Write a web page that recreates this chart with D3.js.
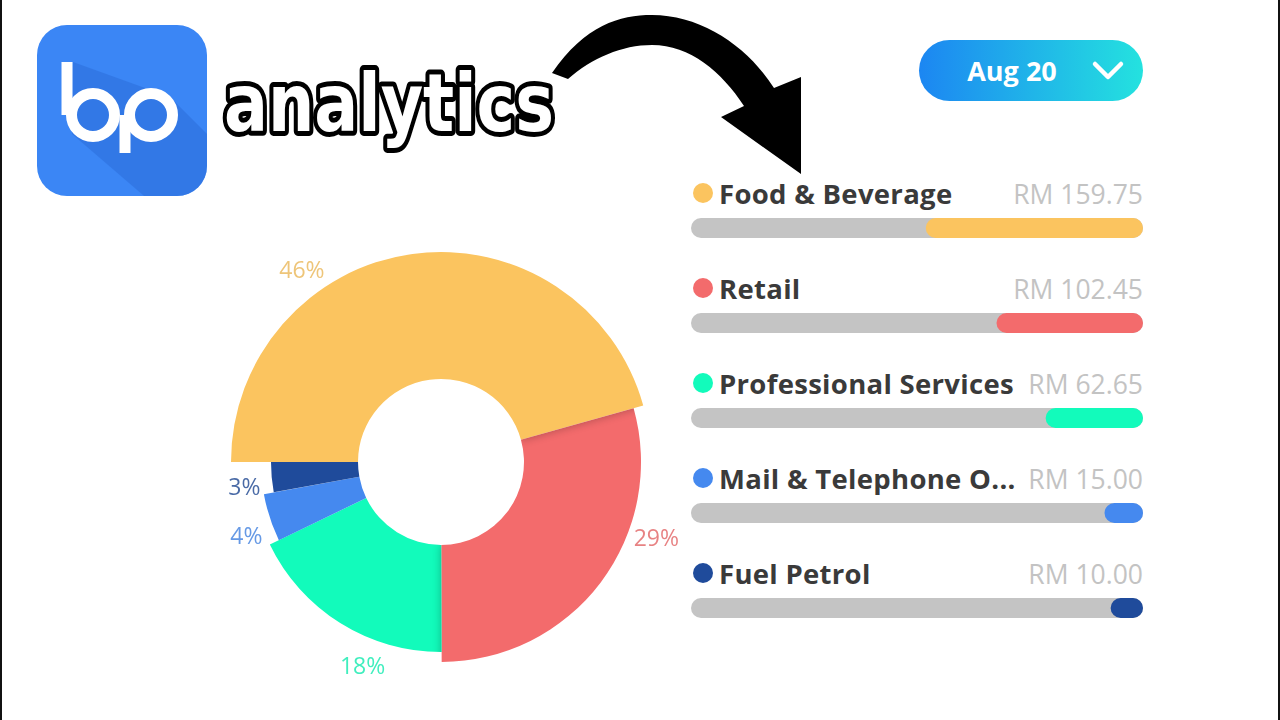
<!DOCTYPE html>
<html>
<head>
<meta charset="utf-8">
<script src="https://cdn.jsdelivr.net/npm/d3@7"></script>
<style>
  html, body { margin: 0; padding: 0; background: #ffffff; }
  svg { display: block; }
</style>
</head>
<body>
<svg id="chart" width="1280" height="720"></svg>
<script>
// ---------- data ----------
const categories = ["Food & Beverage", "Retail", "Professional Services", "Mail & Telephone O...", "Fuel Petrol"];
const amounts = [159.75, 102.45, 62.65, 15.00, 10.00];
const colors = ["#fbc45f", "#f36b6c", "#12fbbb", "#4589ef", "#1f4b9b"];
const currency = "RM";
const period = "Aug 20";
const brand = "analytics";

// ---------- setup ----------
const svg = d3.select("#chart");
const W = 1280, H = 720;
const total = d3.sum(amounts);
const data = categories.map((c, i) => ({ name: c, value: amounts[i], color: colors[i], idx: i }));

const defs = svg.append("defs");

// frame lines
svg.append("rect").attr("x", 0).attr("y", 0).attr("width", 2).attr("height", H).attr("fill", "#111");
svg.append("rect").attr("x", W - 2).attr("y", 0).attr("width", 2).attr("height", H).attr("fill", "#111");

// ---------- logo ----------
const logo = svg.append("g");
defs.append("clipPath").attr("id", "logoClip")
  .append("rect").attr("x", 37).attr("y", 25).attr("width", 170).attr("height", 171).attr("rx", 30);
logo.append("rect").attr("x", 37).attr("y", 25).attr("width", 170).attr("height", 171).attr("rx", 30).attr("fill", "#3b86f5");
logo.append("polygon")
  .attr("clip-path", "url(#logoClip)")
  .attr("points", "73,62 170,97 300,227 300,330 72,134")
  .attr("fill", "#2d6fdc").attr("opacity", 0.6);
const lw = 11;
logo.append("circle").attr("cx", 93).attr("cy", 115).attr("r", 21.5).attr("fill", "none").attr("stroke", "#fff").attr("stroke-width", lw);
logo.append("circle").attr("cx", 151).attr("cy", 115).attr("r", 21.5).attr("fill", "none").attr("stroke", "#fff").attr("stroke-width", lw);
logo.append("line").attr("x1", 67).attr("x2", 67).attr("y1", 62).attr("y2", 115).attr("stroke", "#fff").attr("stroke-width", lw);
logo.append("line").attr("x1", 125).attr("x2", 125).attr("y1", 115).attr("y2", 153).attr("stroke", "#fff").attr("stroke-width", lw);

// brand word
svg.append("text")
  .attr("x", 224).attr("y", 131)
  .attr("font-family", "DejaVu Sans")
  .attr("font-weight", 700)
  .attr("font-size", 80)
  .attr("textLength", 330)
  .attr("lengthAdjust", "spacingAndGlyphs")
  .attr("fill", "#ffffff")
  .attr("stroke", "#000")
  .attr("stroke-width", 10)
  .attr("stroke-linejoin", "round")
  .attr("paint-order", "stroke")
  .text(brand);

// arrow
svg.append("path")
  .attr("d", "M552,73 C585,25 620,15 652,15 C702,15 748,47 774,88 L801,77 L801,174 L721,117 L744,106 C722,72 690,45 652,45 C622,45 592,58 568,79 Z")
  .attr("fill", "#000");

// ---------- period pill ----------
const grad = defs.append("linearGradient").attr("id", "pillGrad").attr("x1", "0%").attr("x2", "100%");
grad.append("stop").attr("offset", "0%").attr("stop-color", "#1c86f2");
grad.append("stop").attr("offset", "100%").attr("stop-color", "#24e2df");
svg.append("rect").attr("x", 919).attr("y", 40).attr("width", 224).attr("height", 61).attr("rx", 30.5).attr("fill", "url(#pillGrad)");
svg.append("text").attr("x", 1012).attr("y", 81).attr("text-anchor", "middle")
  .attr("font-family", "Open Sans").attr("font-weight", 700).attr("font-size", 27)
  .attr("fill", "#fff").text(period);
svg.append("polyline").attr("points", "1095,64 1108,77 1121,64")
  .attr("fill", "none").attr("stroke", "#fff").attr("stroke-width", 4.5)
  .attr("stroke-linecap", "round").attr("stroke-linejoin", "round");

// ---------- donut ----------
const cx = 441, cy = 462;
const innerR = 83;
const outerR = d3.scaleLinear().domain([0, categories.length - 1]).range([210, 170]);

const pie = d3.pie().sort(null).value(d => d.value)
  .startAngle(-Math.PI / 2).endAngle(3 * Math.PI / 2);
const arcs = pie(data);
const arcGen = d3.arc().innerRadius(innerR).outerRadius(d => outerR(d.data.idx));

const donut = svg.append("g").attr("transform", `translate(${cx},${cy})`);

defs.append("filter").attr("id", "blurShadow").attr("x", "-50%").attr("y", "-50%").attr("width", "200%").attr("height", "200%")
  .append("feGaussianBlur").attr("stdDeviation", 5);

donut.selectAll("path.slice").data(arcs).join("path")
  .attr("class", "slice")
  .attr("d", arcGen)
  .attr("fill", d => d.data.color);

// soft shadow cast by previous slice onto the next (first two junctions)
arcs.forEach((a, i) => {
  if (i === 0 || i > 2) return;
  const id = "clipSlice" + i;
  defs.append("clipPath").attr("id", id).attr("transform", `translate(${cx},${cy})`)
    .append("path").attr("d", arcGen(a));
  svg.append("g").attr("clip-path", `url(#${id})`)
    .append("path")
    .attr("transform", `translate(${cx},${cy})`)
    .attr("d", arcGen(arcs[i - 1]))
    .attr("fill", "#000").attr("opacity", 0.28)
    .attr("filter", "url(#blurShadow)");
});

// percentage labels
donut.selectAll("text.pct").data(arcs).join("text")
  .attr("class", "pct")
  .attr("x", d => {
    const ang = d.startAngle + 0.33 * (d.endAngle - d.startAngle);
    return (outerR(d.data.idx) + 28) * Math.sin(ang);
  })
  .attr("y", d => {
    const ang = d.startAngle + 0.33 * (d.endAngle - d.startAngle);
    return -(outerR(d.data.idx) + 28) * Math.cos(ang);
  })
  .attr("text-anchor", "middle")
  .attr("dominant-baseline", "central")
  .attr("font-family", "Open Sans")
  .attr("font-size", 23)
  .attr("fill", d => d3.color(d.data.color).darker(0.2))
  .attr("opacity", 0.8)
  .text(d => Math.round(d.value / total * 100) + "%");

// ---------- legend with progress bars ----------
const barX0 = 691, barX1 = 1143, barH = 20;
const rowY = d3.scalePoint().domain(categories).range([193, 573]);
const barW = d3.scaleLinear().domain([0, total]).range([barH, barX1 - barX0]);

const rows = svg.selectAll("g.row").data(data).join("g")
  .attr("class", "row")
  .attr("transform", d => `translate(0,${rowY(d.name)})`);

rows.append("circle").attr("cx", 703).attr("cy", 0).attr("r", 10).attr("fill", d => d.color);
rows.append("text").attr("x", 719).attr("y", 11)
  .attr("font-family", "Open Sans").attr("font-weight", 700).attr("font-size", 27.5)
  .attr("letter-spacing", 0.3)
  .attr("fill", "#3a3a3a").text(d => d.name);
rows.append("text").attr("x", barX1).attr("y", 11).attr("text-anchor", "end")
  .attr("font-family", "Open Sans").attr("font-size", 26.5)
  .attr("fill", "#c3c3c3").text(d => `${currency} ${d.value.toFixed(2)}`);
rows.append("rect").attr("x", barX0).attr("y", 25).attr("width", barX1 - barX0).attr("height", barH)
  .attr("rx", barH / 2).attr("fill", "#c4c4c4");
rows.append("rect")
  .attr("x", d => barX1 - barW(d.value)).attr("y", 25)
  .attr("width", d => barW(d.value)).attr("height", barH)
  .attr("rx", barH / 2).attr("fill", d => d.color);
</script>
</body>
</html>
